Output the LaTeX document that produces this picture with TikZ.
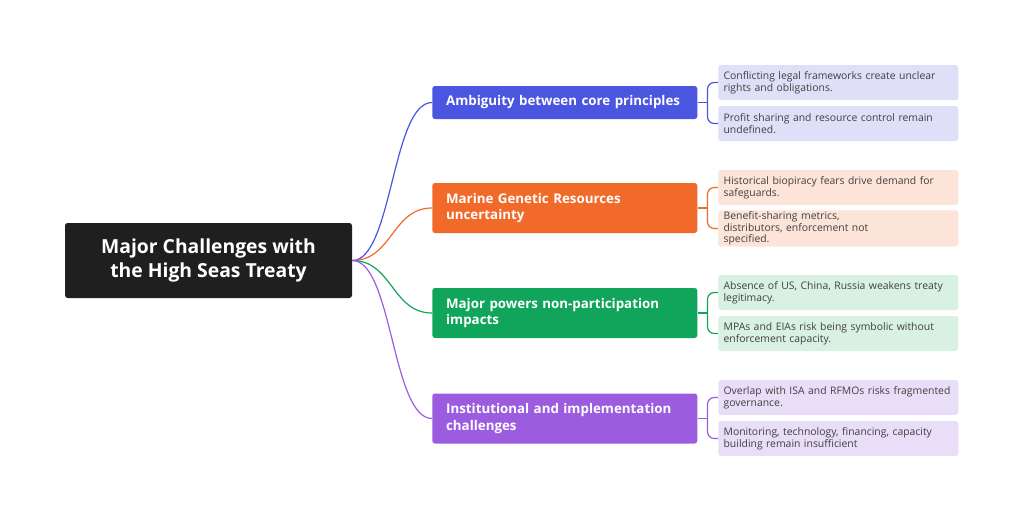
\documentclass[tikz,border=0pt]{standalone}
\usepackage{fontspec}
\setmainfont{Open Sans}
\hyphenpenalty=10000
\begin{document}
\begin{tikzpicture}[x=0.75pt,y=-0.75pt,
 root/.style={fill=black!88,rounded corners=2pt,text=white,font=\bfseries\fontsize{14.5}{18}\selectfont,align=center},
 br/.style={rounded corners=2pt,text=white,font=\bfseries\fontsize{10}{12.5}\selectfont,align=left,anchor=west,minimum width=198.75pt,text width=178pt,inner xsep=10pt},
 lf/.style={rounded corners=2pt,text=black!75,font=\fontsize{7.8}{9.2}\selectfont,align=left,anchor=west,minimum width=180pt,text width=172pt,minimum height=26.25pt,inner xsep=3.5pt,inner ysep=1pt},
 cn/.style={line width=0.9pt}]
\useasboundingbox (0,0) rectangle (1024,522);
\definecolor{cb}{HTML}{4A55E0}\definecolor{co}{HTML}{F26A2A}
\definecolor{cg}{HTML}{10A55A}\definecolor{cp}{HTML}{9B5CE0}
\definecolor{lb}{HTML}{DFE0F8}\definecolor{lo}{HTML}{FDE4D8}
\definecolor{lg}{HTML}{D8F1E2}\definecolor{lp}{HTML}{E9DEF8}
\node[root,minimum width=215.25pt,minimum height=56.25pt] (r) at (208.5,260.5) {Major Challenges with\\the High Seas Treaty};
\node[br,fill=cb,minimum height=24.75pt] (b1) at (432,102.5) {Ambiguity between core principles};
\node[br,fill=co,minimum height=37.5pt] (b2) at (432,208) {Marine Genetic Resources\\uncertainty};
\node[br,fill=cg,minimum height=37.5pt] (b3) at (432,313) {Major powers non-participation\\impacts};
\node[br,fill=cp,minimum height=37.5pt] (b4) at (432,418.5) {Institutional and implementation\\challenges};
\node[lf,fill=lb] (l1) at (718,82.5) {Conflicting legal frameworks create unclear\\rights and obligations.};
\node[lf,fill=lb] (l2) at (718,123.5) {Profit sharing and resource control remain\\undefined.};
\node[lf,fill=lo] (l3) at (718,187.5) {Historical biopiracy fears drive demand for\\safeguards.};
\node[lf,fill=lo,font=\fontsize{7.8}{8.6}\selectfont] (l4) at (718,228.5) {Benefit-sharing metrics,\\distributors, enforcement not\\specified.};
\node[lf,fill=lg] (l5) at (718,292.5) {Absence of US, China, Russia weakens treaty\\legitimacy.};
\node[lf,fill=lg] (l6) at (718,333.5) {MPAs and EIAs risk being symbolic without\\enforcement capacity.};
\node[lf,fill=lp] (l7) at (718,397.5) {Overlap with ISA and RFMOs risks fragmented\\governance.};
\node[lf,fill=lp] (l8) at (718,438.5) {Monitoring, technology, financing, capacity\\building remain insufficient};
\foreach \b/\c in {b1/cb,b2/co,b3/cg,b4/cp}
 \draw[cn,\c] (r.east) .. controls +(40,0) and +(-40,0) .. (\b.west);
\foreach \b/\c/\u/\v in {b1/cb/l1/l2,b2/co/l3/l4,b3/cg/l5/l6,b4/cp/l7/l8}{
 \coordinate (m\b) at ([xshift=7.5pt]\b.east);
 \draw[cn,\c] (\b.east) -- (m\b);
 \draw[cn,\c,rounded corners=5pt] (m\b) |- (\u.west);
 \draw[cn,\c,rounded corners=5pt] (m\b) |- (\v.west);}
\end{tikzpicture}
\end{document}
